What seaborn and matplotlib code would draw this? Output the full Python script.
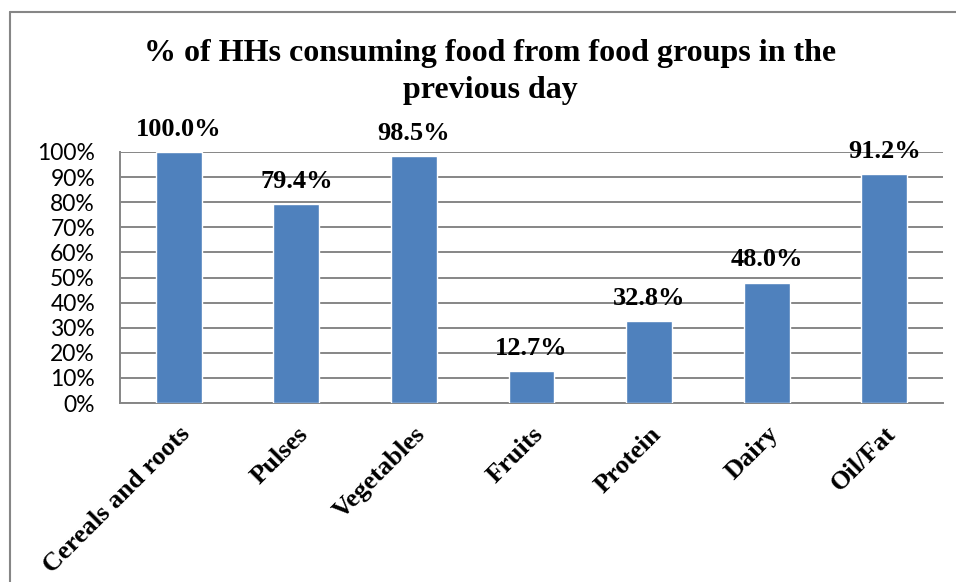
import matplotlib
matplotlib.use("Agg")
import matplotlib.pyplot as plt
from matplotlib.lines import Line2D
from matplotlib.ticker import FuncFormatter, MultipleLocator
import seaborn as sns
import pandas as pd

categories = ["Cereals and roots", "Pulses", "Vegetables", "Fruits", "Protein", "Dairy", "Oil/Fat"]
shares = [100.0, 79.4, 98.5, 12.7, 32.8, 48.0, 91.2]
title = "% of HHs consuming food from food groups in the\nprevious day"

df = pd.DataFrame({"group": categories, "share": shares})

sns.set_theme(style="white")
serif = ["Liberation Serif", "DejaVu Serif"]
sans = ["Lato", "Liberation Sans", "DejaVu Sans"]
grid_col = "#868686"
bar_col = "#4F81BD"

fig = plt.figure(figsize=(9.56, 5.82), dpi=100)
ax = fig.add_axes([120 / 956, 1 - 403 / 582, (943 - 120) / 956, (403 - 152) / 582])

sns.barplot(data=df, x="group", y="share", color=bar_col, saturation=1,
            width=0.39, ax=ax, zorder=3)

ax.set_ylim(0, 100)
ax.set_xlim(-0.5, len(categories) - 0.5)
ax.yaxis.set_major_locator(MultipleLocator(10))
ax.yaxis.set_major_formatter(FuncFormatter(lambda v, p: f"{v:.0f}%"))
ax.grid(axis="y", color=grid_col, linewidth=1.4, zorder=0)
ax.set_axisbelow(True)

for s in ["top", "right"]:
    ax.spines[s].set_visible(False)
for s in ["left", "bottom"]:
    ax.spines[s].set_color(grid_col)
    ax.spines[s].set_linewidth(1.4)

ax.set_xlabel("")
ax.set_ylabel("")
ax.tick_params(axis="y", length=0, pad=18, labelsize=16.5, labelcolor="black")
for t in ax.get_yticklabels():
    t.set_fontfamily(sans)

ax.tick_params(axis="x", length=0, pad=14, labelcolor="black")
ax.set_xticks(range(len(categories)))
ax.set_xticklabels(categories, rotation=45, ha="right", rotation_mode="anchor",
                   fontfamily=serif, fontweight="bold", fontsize=19, color="black")

for i, v in enumerate(shares):
    ax.annotate(f"{v:.1f}%", (i, v), xytext=(0, 8), textcoords="offset points",
                ha="center", va="bottom", fontfamily=serif, fontweight="bold",
                fontsize=19, color="black", annotation_clip=False)

fig.text(490 / 956, 1 - 72 / 582, title, ha="center", va="center", color="black",
         fontfamily=serif, fontweight="bold", fontsize=23, linespacing=1.4)

# chart frame
fig.add_artist(Line2D([10 / 956, 10 / 956], [0, 1 - 12 / 582], transform=fig.transFigure,
                      color=grid_col, linewidth=1.5))
fig.add_artist(Line2D([10 / 956, 1], [1 - 12 / 582, 1 - 12 / 582], transform=fig.transFigure,
                      color=grid_col, linewidth=1.5))

fig.savefig("out.png", dpi=100, facecolor="white")
